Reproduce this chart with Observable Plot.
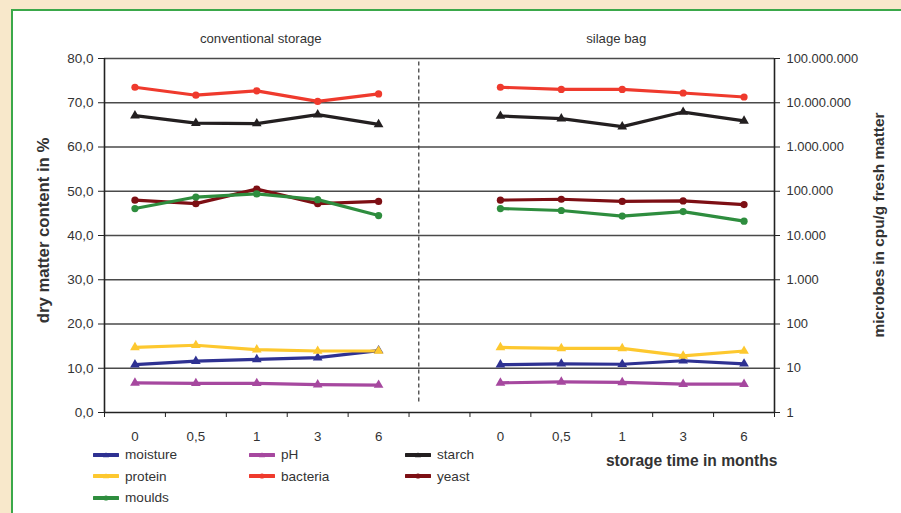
<!DOCTYPE html>
<html>
<head>
<meta charset="utf-8">
<script src="https://cdn.jsdelivr.net/npm/d3@7"></script>
<script src="https://cdn.jsdelivr.net/npm/@observablehq/plot@0.6"></script>
<style>
  html, body { margin: 0; padding: 0; }
  body { width: 901px; height: 513px; background: #f8e8cb; position: relative; overflow: hidden;
         font-family: "Liberation Sans", Arial, sans-serif; color: #333; }
  #frame { position: absolute; left: 11px; top: 9px; width: 900px; height: 520px; border: 2px solid #3aa84a; background: #fff; }
  #chart { position: absolute; left: 0; top: 0; }
  #legend { position: absolute; left: 93px; top: 444px; display: grid; grid-template-columns: 156px 156px 156px; grid-auto-rows: 21.5px; font-size: 13.6px; color: #333; }
  .item { display: flex; align-items: center; }
  .item svg { margin-right: 6px; }
</style>
</head>
<body>
<div id="frame"></div>
<div id="chart"></div>
<div id="legend"></div>
<script>
const months = ["0", "0,5", "1", "3", "6"];
const groupNames = ["conventional storage", "silage bag"];
const seriesNames = ["moisture", "pH", "starch", "protein", "bacteria", "yeast", "moulds"];
const seriesColors = ["#2e3192", "#a6489f", "#231f20", "#fdc82f", "#ef3a2d", "#7d0f14", "#2e8d3e"];
const seriesSymbols = ["triangle", "triangle", "triangle", "triangle", "circle", "circle", "circle"];
const microbeSeries = ["bacteria", "yeast", "moulds"];

// dry matter content in % (left axis)
const moisture_conv = [10.8, 11.6, 12.0, 12.4, 14.0];
const moisture_bag  = [10.8, 11.0, 10.9, 11.7, 11.0];
const pH_conv       = [6.7, 6.6, 6.6, 6.3, 6.2];
const pH_bag        = [6.7, 6.9, 6.8, 6.4, 6.4];
const starch_conv   = [67.1, 65.4, 65.3, 67.3, 65.1];
const starch_bag    = [67.0, 66.4, 64.6, 67.9, 65.9];
const protein_conv  = [14.7, 15.2, 14.2, 13.9, 13.9];
const protein_bag   = [14.7, 14.5, 14.5, 12.8, 13.9];
// microbes in cpu/g fresh matter (right log axis)
const bacteria_conv = [22400000, 14800000, 18600000, 10700000, 15800000];
const bacteria_bag  = [22400000, 20000000, 20000000, 16600000, 13500000];
const yeast_conv    = [63000, 52500, 112000, 52500, 58900];
const yeast_bag     = [63000, 66000, 58900, 60300, 50100];
const moulds_conv   = [40700, 74000, 87000, 64600, 28200];
const moulds_bag    = [40700, 36700, 27500, 34700, 21100];

const yTicks = [0, 10, 20, 30, 40, 50, 60, 70, 80];
const tables = {
  moisture: [moisture_conv, moisture_bag],
  pH: [pH_conv, pH_bag],
  starch: [starch_conv, starch_bag],
  protein: [protein_conv, protein_bag],
  bacteria: [bacteria_conv, bacteria_bag],
  yeast: [yeast_conv, yeast_bag],
  moulds: [moulds_conv, moulds_bag]
};

// left scale 0..80 ; right scale 1..1e8 shares it: 10 units per decade
const toY = (s, v) => microbeSeries.includes(s) ? 10 * Math.log10(v) : v;

const rows = [];
seriesNames.forEach((s, si) => {
  tables[s].forEach((vals, g) => {
    vals.forEach((v, i) => {
      rows.push({series: s, key: s + g, x: g * 6 + i, y: toY(s, v), symbol: seriesSymbols[si]});
    });
  });
});

const locale = d3.formatLocale({decimal: ",", thousands: ".", grouping: [3], currency: ["", ""]});
const leftFmt = locale.format(".1f");
const intFmt = locale.format(",d");
const rightFmt = d => intFmt(Math.round(Math.pow(10, d / 10)));

const xBounds = d3.range(-0.5, 11, 1);
const xLabelPos = [0, 1, 2, 3, 4, 6, 7, 8, 9, 10];
const divider = [{x: 4.66, y1: 2.4, y2: 79.5}];

const chart = Plot.plot({
  width: 901,
  height: 470,
  marginLeft: 104,
  marginRight: 127,
  marginTop: 58,
  marginBottom: 58,
  x: {domain: [-0.5, 10.5]},
  y: {domain: [0, 80]},
  color: {domain: seriesNames, range: seriesColors},
  style: {background: "transparent", fontFamily: "'Liberation Sans', Arial, sans-serif", fontSize: "13.3px", color: "#333", overflow: "visible"},
  marks: [
    Plot.ruleY(yTicks.filter(d => d > 0), {stroke: "#4a4a4a", strokeWidth: 1.3}),
    Plot.ruleX(divider, {x: "x", y1: "y1", y2: "y2", stroke: "#333", strokeWidth: 1.2, strokeDasharray: "4,3"}),
    Plot.axisY({ticks: yTicks, anchor: "left", tickFormat: leftFmt, tickSize: 6, tickPadding: 5, label: null, stroke: "#222", fontSize: 13.5}),
    Plot.axisY({ticks: yTicks, anchor: "right", tickFormat: rightFmt, tickSize: 5, tickPadding: 7, label: null, stroke: "#222", fontSize: 12.9}),
    Plot.axisX(xBounds, {anchor: "bottom", tickSize: 5, tickFormat: () => "", label: null, stroke: "#222"}),
    Plot.axisX(xLabelPos, {anchor: "bottom", tickSize: 0, tickPadding: 19, tickFormat: i => months[i % 6], label: null, fontSize: 13.3}),
    Plot.ruleY([0], {stroke: "#222", strokeWidth: 1.6}),
    Plot.ruleX([-0.5, 10.5], {stroke: "#222", strokeWidth: 1.6}),
    Plot.line(rows, {x: "x", y: "y", z: "key", stroke: "series", strokeWidth: 3.2, strokeLinejoin: "round"}),
    Plot.dot(rows, {x: "x", y: "y", fill: "series", symbol: "symbol", r: 3.6, stroke: "none"}),
    Plot.text([groupNames[0]], {x: () => 2, frameAnchor: "top", dx: 4, dy: -20, lineAnchor: "middle", textAnchor: "middle", text: d => d, fontSize: 13.2, fill: "#333"}),
    Plot.text([groupNames[1]], {x: () => 8, frameAnchor: "top", dx: -6, dy: -20, lineAnchor: "middle", textAnchor: "middle", text: d => d, fontSize: 13.2, fill: "#333"}),
    Plot.text(["dry matter content in %"], {frameAnchor: "left", dx: -61, dy: -5, rotate: -90, textAnchor: "middle", lineAnchor: "middle", text: d => d, fontWeight: "bold", fontSize: 16.7, fill: "#333"}),
    Plot.text(["microbes in cpu/g fresh matter"], {frameAnchor: "right", dx: 105, dy: -10.5, rotate: -90, textAnchor: "middle", lineAnchor: "middle", text: d => d, fontWeight: "bold", fontSize: 15.4, fill: "#333"}),
    Plot.text(["storage time in months"], {frameAnchor: "bottom-right", dx: 3, dy: 48, textAnchor: "end", lineAnchor: "middle", text: d => d, fontWeight: "bold", fontSize: 15.6, fill: "#333"})
  ]
});
document.getElementById("chart").appendChild(chart);

// legend
const legend = document.getElementById("legend");
const order = ["moisture", "pH", "starch", "protein", "bacteria", "yeast", "moulds"];
order.forEach(s => {
  const i = seriesNames.indexOf(s);
  const c = seriesColors[i];
  const marker = seriesSymbols[i] === "triangle"
    ? `<path d="M13,2.2 L16,7.2 L10,7.2 Z" fill="${c}"/>`
    : `<circle cx="13" cy="5" r="2.6" fill="${c}"/>`;
  const div = document.createElement("div");
  div.className = "item";
  div.innerHTML = `<svg width="26" height="10"><line x1="1" x2="25" y1="5" y2="5" stroke="${c}" stroke-width="4" stroke-linecap="round"/>${marker}</svg><span>${s}</span>`;
  legend.appendChild(div);
});
</script>
</body>
</html>
